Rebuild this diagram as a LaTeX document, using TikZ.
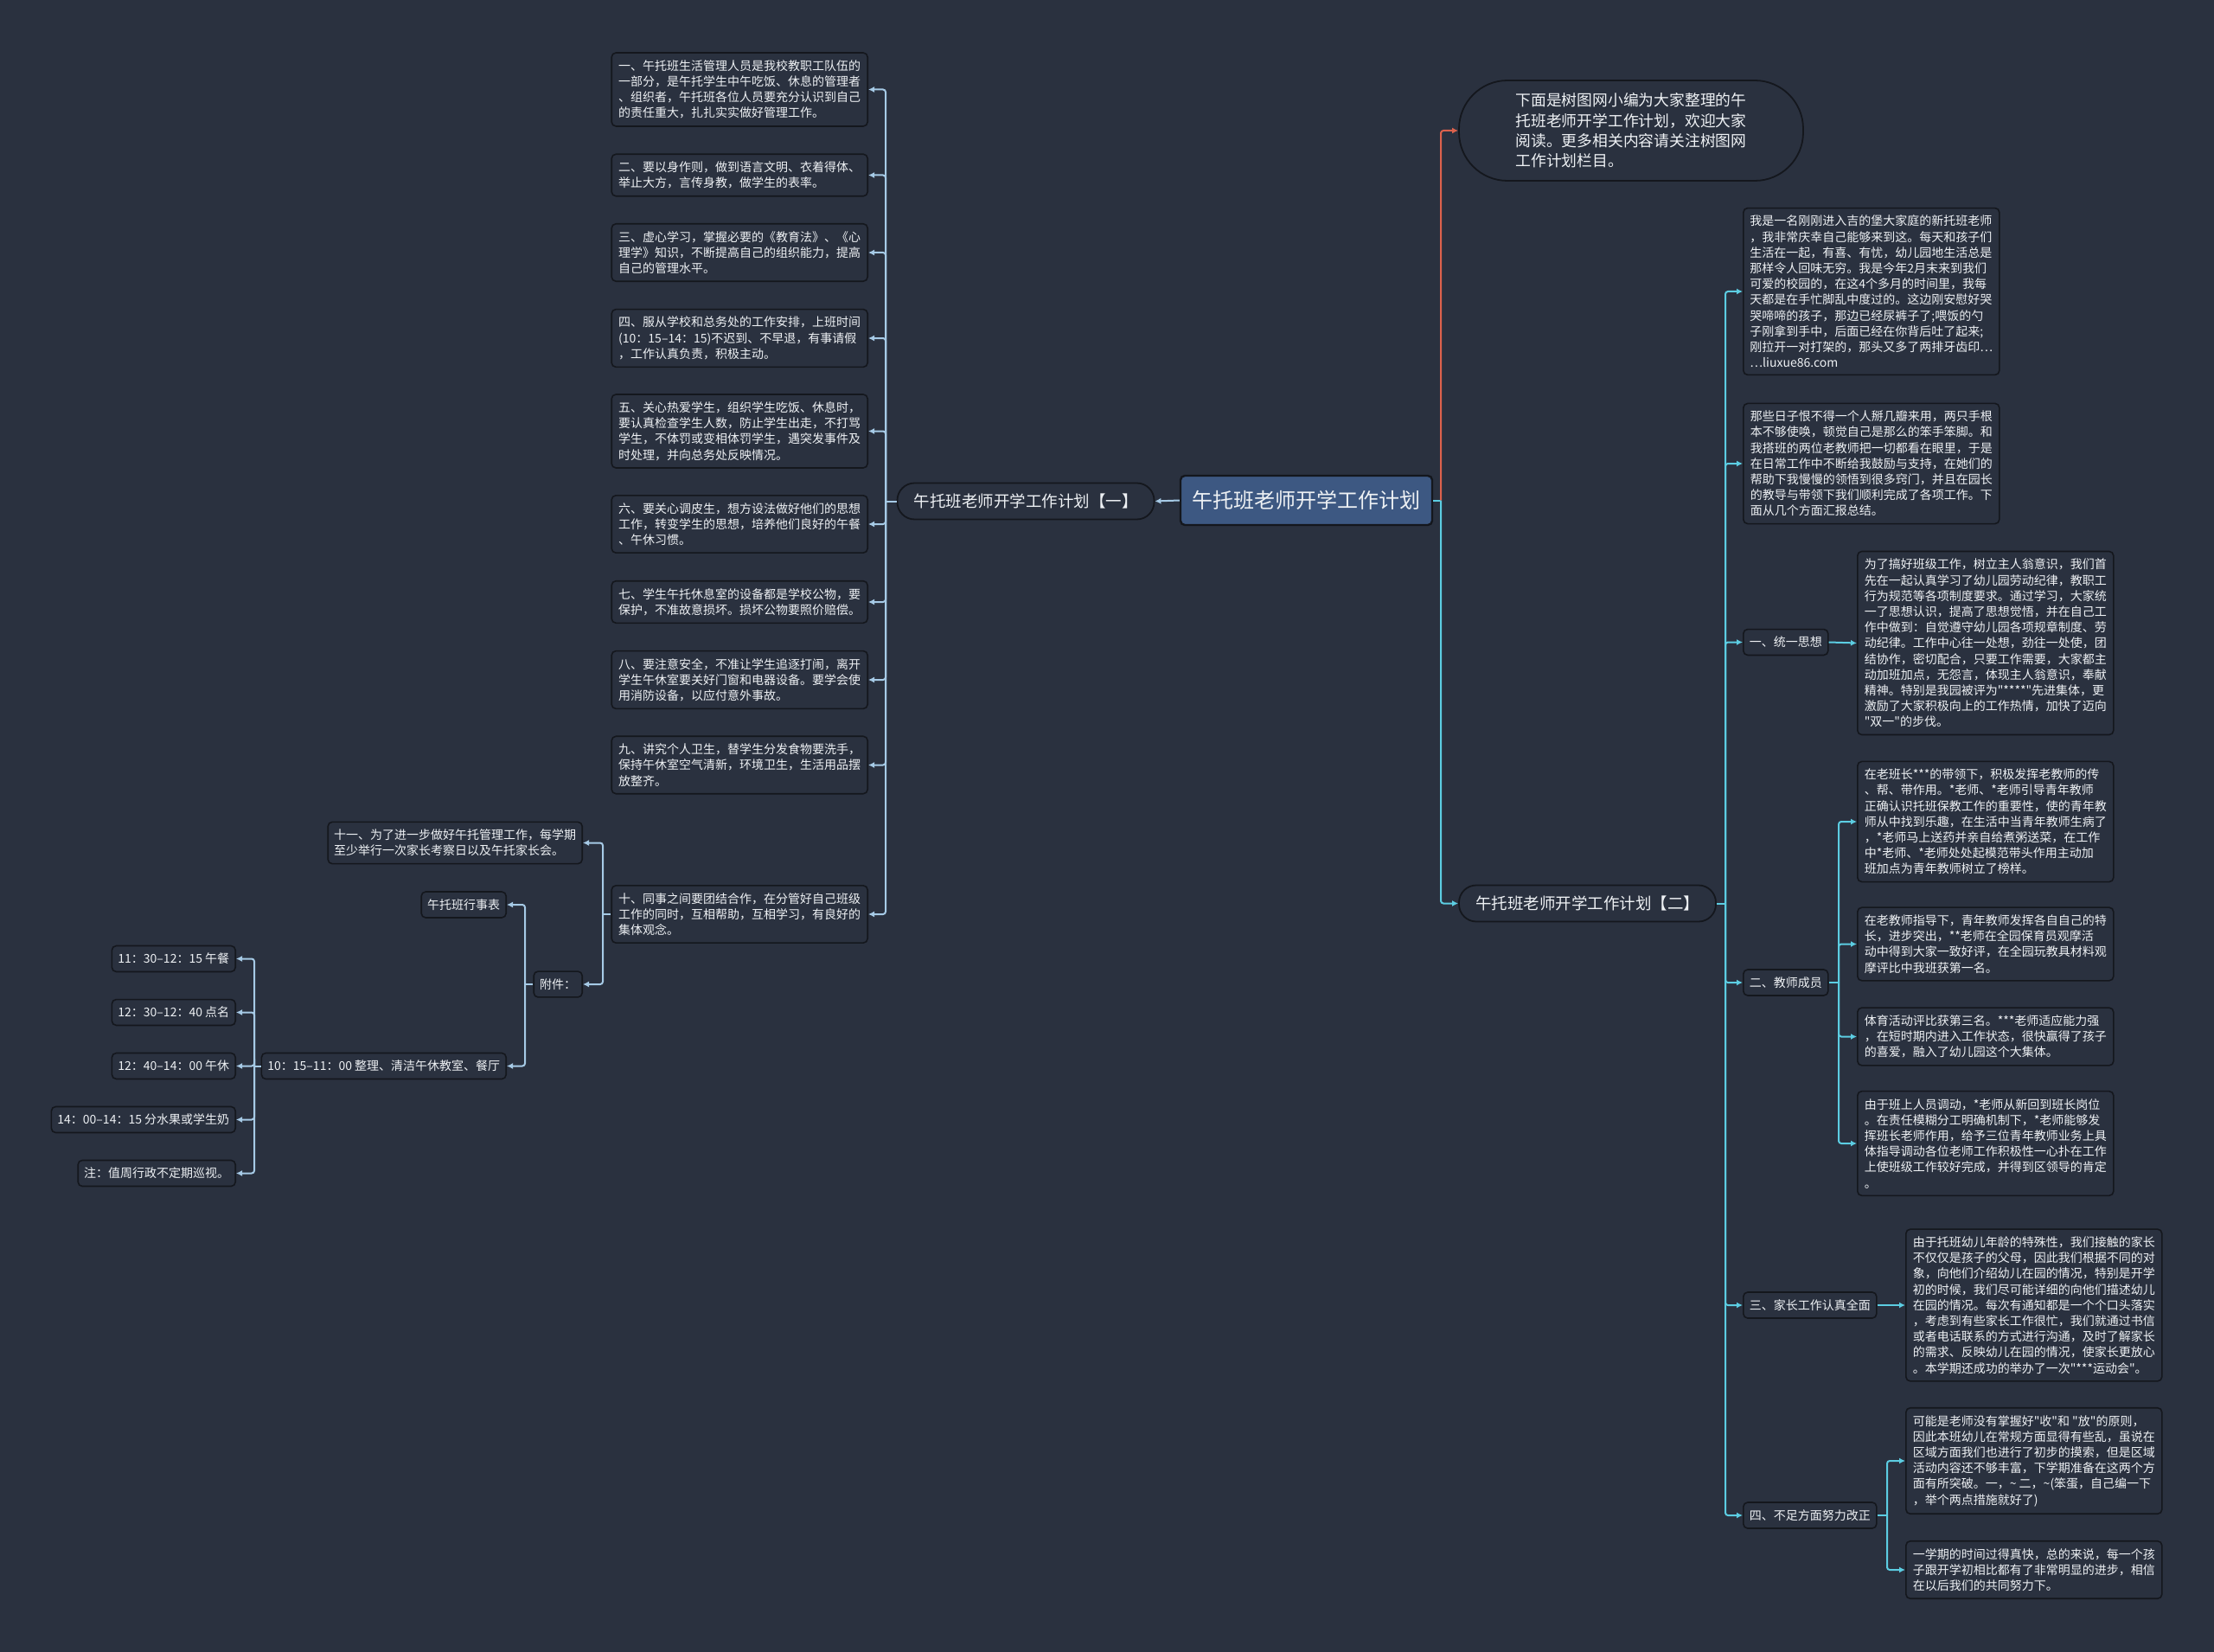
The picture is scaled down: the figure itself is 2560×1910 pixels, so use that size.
\documentclass[tikz,border=0pt]{standalone}
\usepackage{fontspec}
\setmainfont{Noto Sans CJK SC}[Ligatures=TeXOff]
\usetikzlibrary{arrows.meta}
\definecolor{bg}{HTML}{2A313F}
\definecolor{boxfill}{HTML}{2A313F}
\definecolor{boxline}{HTML}{14171D}
\definecolor{rootfill}{HTML}{3D5882}
\definecolor{lblue}{HTML}{A6CAE6}
\definecolor{cyanl}{HTML}{5CCDE2}
\definecolor{redl}{HTML}{DC624D}
\definecolor{txt}{HTML}{EEF1F4}
\tikzset{
 box/.style={draw=boxline, fill=boxfill, line width=1.6pt, rounded corners=5pt, align=left, text=txt, font=\fontsize{14}{18.2}\selectfont, inner xsep=7pt, inner ysep=8.5pt},
 bigbox/.style={box, minimum width=296pt},
 pill/.style={draw=boxline, fill=boxfill, line width=1.8pt, rounded corners=20pt, text=txt, font=\fontsize{18.5}{22}\selectfont, minimum width=297pt, minimum height=42pt},
 lconn/.style={draw=lblue, line width=2pt, rounded corners=3pt},
 rconn/.style={draw=cyanl, line width=2pt, rounded corners=3pt},
 redconn/.style={draw=redl, line width=2pt, rounded corners=3pt},
 tip/.style={-{Latex[length=7pt,width=7pt]}},
}
\begin{document}
\begin{tikzpicture}[x=1pt,y=-1pt]
\fill[bg] (0,0) rectangle (2560,1910);
\useasboundingbox (0,0) rectangle (2560,1910);

% root and main branches
\node[draw=boxline, fill=rootfill, line width=2.4pt, rounded corners=5pt, text=txt, font=\fontsize{24}{28}\selectfont, minimum width=291pt, minimum height=57pt] (root) at (1510.5,578.5) {午托班老师开学工作计划};
\node[pill] (P1) at (1186,579.5) {午托班老师开学工作计划【一】};
\node[pill] (P2) at (1835.5,1044.5) {午托班老师开学工作计划【二】};
\node[draw=boxline, fill=boxfill, line width=1.8pt, rounded corners=56pt, text=txt, align=left, font=\fontsize{17.8}{23.3}\selectfont, minimum width=398pt, minimum height=116pt] (T) at (1886,151) {下面是树图网小编为大家整理的午\\托班老师开学工作计划，欢迎大家\\阅读。更多相关内容请关注树图网\\工作计划栏目。};

% left column
\node[bigbox, anchor=east] (L1) at (1004,103.5) {一、午托班生活管理人员是我校教职工队伍的\\一部分，是午托学生中午吃饭、休息的管理者\\、组织者，午托班各位人员要充分认识到自己\\的责任重大，扎扎实实做好管理工作。};
\node[bigbox, anchor=east] (L2) at (1004,202.5) {二、要以身作则，做到语言文明、衣着得体、\\举止大方，言传身教，做学生的表率。};
\node[bigbox, anchor=east] (L3) at (1004,292) {三、虚心学习，掌握必要的《教育法》、《心\\理学》知识，不断提高自己的组织能力，提高\\自己的管理水平。};
\node[bigbox, anchor=east] (L4) at (1004,391) {四、服从学校和总务处的工作安排，上班时间\\(10：15–14：15)不迟到、不早退，有事请假\\，工作认真负责，积极主动。};
\node[bigbox, anchor=east] (L5) at (1004,498.5) {五、关心热爱学生，组织学生吃饭、休息时，\\要认真检查学生人数，防止学生出走，不打骂\\学生，不体罚或变相体罚学生，遇突发事件及\\时处理，并向总务处反映情况。};
\node[bigbox, anchor=east] (L6) at (1004,606) {六、要关心调皮生，想方设法做好他们的思想\\工作，转变学生的思想，培养他们良好的午餐\\、午休习惯。};
\node[bigbox, anchor=east] (L7) at (1004,696) {七、学生午托休息室的设备都是学校公物，要\\保护，不准故意损坏。损坏公物要照价赔偿。};
\node[bigbox, anchor=east] (L8) at (1004,786) {八、要注意安全，不准让学生追逐打闹，离开\\学生午休室要关好门窗和电器设备。要学会使\\用消防设备，以应付意外事故。};
\node[bigbox, anchor=east] (L9) at (1004,884.5) {九、讲究个人卫生，替学生分发食物要洗手，\\保持午休室空气清新，环境卫生，生活用品摆\\放整齐。};
\node[bigbox, anchor=east] (L10) at (1004,1057) {十、同事之间要团结合作，在分管好自己班级\\工作的同时，互相帮助，互相学习，有良好的\\集体观念。};

% lower left
\node[box, anchor=east] (N11) at (674,974.5) {十一、为了进一步做好午托管理工作，每学期\\至少举行一次家长考察日以及午托家长会。};
\node[box, anchor=east] (FJ) at (674,1138) {附件：};
\node[box, anchor=east] (XS) at (586,1046) {午托班行事表};
\node[box, anchor=east] (Q1) at (586,1232.5) {10：15–11：00 整理、清洁午休教室、餐厅};
\node[box, anchor=east] (Q2) at (273,1108.5) {11：30–12：15 午餐};
\node[box, anchor=east] (Q3) at (273,1170.5) {12：30–12：40 点名};
\node[box, anchor=east] (Q4) at (273,1232.5) {12：40–14：00 午休};
\node[box, anchor=east] (Q5) at (273,1294.5) {14：00–14：15 分水果或学生奶};
\node[box, anchor=east] (Q6) at (273,1356.5) {注：值周行政不定期巡视。};

% right column
\node[bigbox, anchor=west] (A) at (2015,337) {我是一名刚刚进入吉的堡大家庭的新托班老师\\，我非常庆幸自己能够来到这。每天和孩子们\\生活在一起，有喜、有忧，幼儿园地生活总是\\那样令人回味无穷。我是今年2月末来到我们\\可爱的校园的，在这4个多月的时间里，我每\\天都是在手忙脚乱中度过的。这边刚安慰好哭\\哭啼啼的孩子，那边已经尿裤子了;喂饭的勺\\子刚拿到手中，后面已经在你背后吐了起来;\\刚拉开一对打架的，那头又多了两排牙齿印…\\…liuxue86.com};
\node[bigbox, anchor=west] (B) at (2015,536) {那些日子恨不得一个人掰几瓣来用，两只手根\\本不够使唤，顿觉自己是那么的笨手笨脚。和\\我搭班的两位老教师把一切都看在眼里，于是\\在日常工作中不断给我鼓励与支持，在她们的\\帮助下我慢慢的领悟到很多窍门，并且在园长\\的教导与带领下我们顺利完成了各项工作。下\\面从几个方面汇报总结。};
\node[box, anchor=west] (S1) at (2015,742.5) {一、统一思想};
\node[bigbox, anchor=west] (C) at (2147,743.5) {为了搞好班级工作，树立主人翁意识，我们首\\先在一起认真学习了幼儿园劳动纪律，教职工\\行为规范等各项制度要求。通过学习，大家统\\一了思想认识，提高了思想觉悟，并在自己工\\作中做到：自觉遵守幼儿园各项规章制度、劳\\动纪律。工作中心往一处想，劲往一处使，团\\结协作，密切配合，只要工作需要，大家都主\\动加班加点，无怨言，体现主人翁意识，奉献\\精神。特别是我园被评为"****"先进集体，更\\激励了大家积极向上的工作热情，加快了迈向\\"双一"的步伐。};
\node[box, anchor=west] (S2) at (2015,1136) {二、教师成员};
\node[bigbox, anchor=west] (D1) at (2147,950) {在老班长***的带领下，积极发挥老教师的传\\、帮、带作用。*老师、*老师引导青年教师\\正确认识托班保教工作的重要性，使的青年教\\师从中找到乐趣，在生活中当青年教师生病了\\，*老师马上送药并亲自给煮粥送菜，在工作\\中*老师、*老师处处起模范带头作用主动加\\班加点为青年教师树立了榜样。};
\node[bigbox, anchor=west] (D2) at (2147,1091.5) {在老教师指导下，青年教师发挥各自自己的特\\长，进步突出，**老师在全园保育员观摩活\\动中得到大家一致好评，在全园玩教具材料观\\摩评比中我班获第一名。};
\node[bigbox, anchor=west] (D3) at (2147,1198.5) {体育活动评比获第三名。***老师适应能力强\\，在短时期内进入工作状态，很快赢得了孩子\\的喜爱，融入了幼儿园这个大集体。};
\node[bigbox, anchor=west] (D4) at (2147,1322) {由于班上人员调动，*老师从新回到班长岗位\\。在责任模糊分工明确机制下，*老师能够发\\挥班长老师作用，给予三位青年教师业务上具\\体指导调动各位老师工作积极性一心扑在工作\\上使班级工作较好完成，并得到区领导的肯定\\。};
\node[box, anchor=west] (S3) at (2015,1509) {三、家长工作认真全面};
\node[bigbox, anchor=west] (E) at (2203,1509) {由于托班幼儿年龄的特殊性，我们接触的家长\\不仅仅是孩子的父母，因此我们根据不同的对\\象，向他们介绍幼儿在园的情况，特别是开学\\初的时候，我们尽可能详细的向他们描述幼儿\\在园的情况。每次有通知都是一个个口头落实\\，考虑到有些家长工作很忙，我们就通过书信\\或者电话联系的方式进行沟通，及时了解家长\\的需求、反映幼儿在园的情况，使家长更放心\\。本学期还成功的举办了一次"***运动会"。};
\node[box, anchor=west] (S4) at (2015,1752) {四、不足方面努力改正};
\node[bigbox, anchor=west] (F1) at (2203,1689) {可能是老师没有掌握好"收"和 "放"的原则，\\因此本班幼儿在常规方面显得有些乱，虽说在\\区域方面我们也进行了初步的摸索，但是区域\\活动内容还不够丰富，下学期准备在这两个方\\面有所突破。一，\textasciitilde{} 二，\textasciitilde{}(笨蛋，自己编一下\\，举个两点措施就好了)};
\node[bigbox, anchor=west] (F2) at (2203,1815) {一学期的时间过得真快，总的来说，每一个孩\\子跟开学初相比都有了非常明显的进步，相信\\在以后我们的共同努力下。};

% junctions
\coordinate (j1) at (1024,579.5);
\coordinate (j2) at (1666,578.5);
\coordinate (j3) at (1995,1044.5);
\coordinate (j4) at (2126,1136);
\coordinate (j5) at (2182,1752);
\coordinate (j6) at (697,1057);
\coordinate (j7) at (607,1138);
\coordinate (j8) at (294,1232.5);

% left connectors
\draw[lconn,tip] (root.west) -- (P1.east);
\draw[lconn] (P1.west) -- (j1);
\foreach \n in {L1,L2,L3,L4,L5,L6,L7,L8,L9,L10} \draw[lconn,tip] (j1) |- (\n.east);
\draw[lconn] (L10.west) -- (j6);
\foreach \n in {N11,FJ} \draw[lconn,tip] (j6) |- (\n.east);
\draw[lconn] (FJ.west) -- (j7);
\foreach \n in {XS,Q1} \draw[lconn,tip] (j7) |- (\n.east);
\draw[lconn] (Q1.west) -- (j8);
\foreach \n in {Q2,Q3,Q4,Q5,Q6} \draw[lconn,tip] (j8) |- (\n.east);

% right connectors
\draw[rconn] (root.east) -- (j2);
\draw[redconn,tip] (j2) |- (T.west);
\draw[rconn,tip] (j2) |- (P2.west);
\draw[rconn] (P2.east) -- (j3);
\foreach \n in {A,B,S1,S2,S3,S4} \draw[rconn,tip] (j3) |- (\n.west);
\draw[rconn,tip] (S1.east) -- (C.west);
\draw[rconn] (S2.east) -- (j4);
\foreach \n in {D1,D2,D3,D4} \draw[rconn,tip] (j4) |- (\n.west);
\draw[rconn,tip] (S3.east) -- (E.west);
\draw[rconn] (S4.east) -- (j5);
\foreach \n in {F1,F2} \draw[rconn,tip] (j5) |- (\n.west);
\end{tikzpicture}
\end{document}
